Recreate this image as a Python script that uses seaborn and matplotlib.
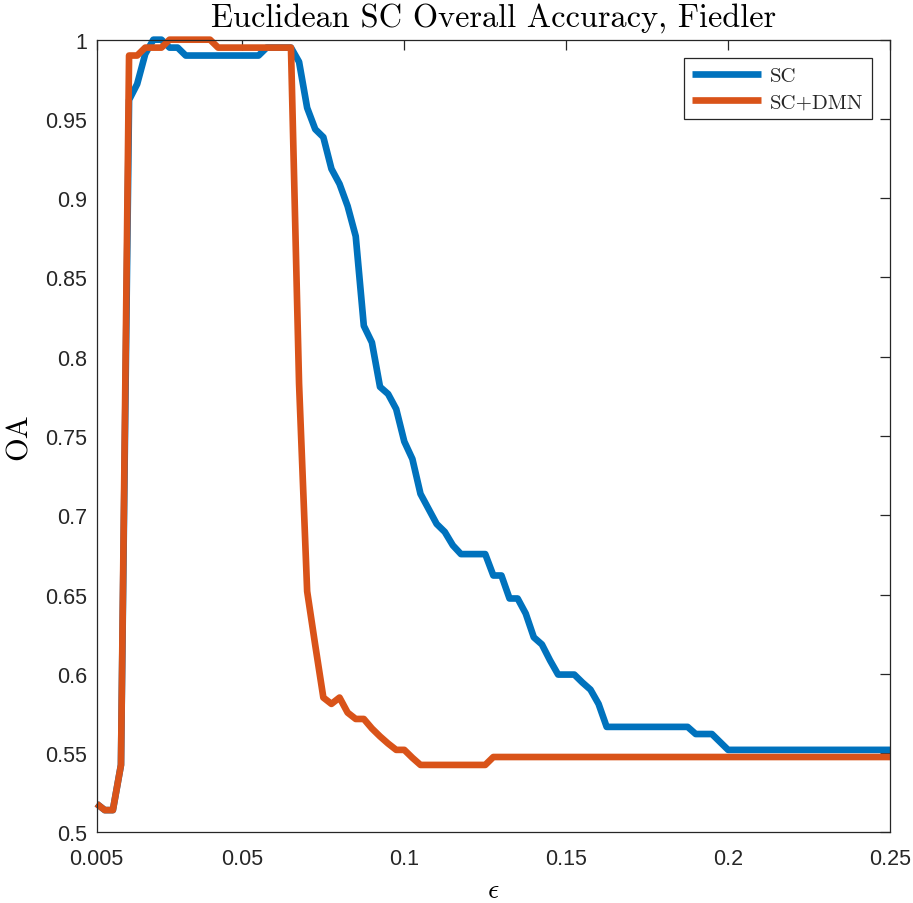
import numpy as np
import pandas as pd
import matplotlib
matplotlib.use("Agg")
import matplotlib.pyplot as plt
import seaborn as sns

# epsilon grid (0.005 to 0.25, step 0.0025)
eps = [
    0.005, 0.0075, 0.01, 0.0125, 0.015, 0.0175, 0.02, 0.0225, 0.025, 0.0275,
    0.03, 0.0325, 0.035, 0.0375, 0.04, 0.0425, 0.045, 0.0475, 0.05, 0.0525,
    0.055, 0.0575, 0.06, 0.0625, 0.065, 0.0675, 0.07, 0.0725, 0.075, 0.0775,
    0.08, 0.0825, 0.085, 0.0875, 0.09, 0.0925, 0.095, 0.0975, 0.1, 0.1025,
    0.105, 0.1075, 0.11, 0.1125, 0.115, 0.1175, 0.12, 0.1225, 0.125, 0.1275,
    0.13, 0.1325, 0.135, 0.1375, 0.14, 0.1425, 0.145, 0.1475, 0.15, 0.1525,
    0.155, 0.1575, 0.16, 0.1625, 0.165, 0.1675, 0.17, 0.1725, 0.175, 0.1775,
    0.18, 0.1825, 0.185, 0.1875, 0.19, 0.1925, 0.195, 0.1975, 0.2, 0.2025,
    0.205, 0.2075, 0.21, 0.2125, 0.215, 0.2175, 0.22, 0.2225, 0.225, 0.2275,
    0.23, 0.2325, 0.235, 0.2375, 0.24, 0.2425, 0.245, 0.2475, 0.25,
]

sc = [
    0.518, 0.514, 0.514, 0.5425, 0.962, 0.972, 0.991, 1.0, 1.0, 0.995,
    0.995, 0.99, 0.99, 0.99, 0.99, 0.99, 0.99, 0.99, 0.99, 0.99,
    0.99, 0.995, 0.995, 0.995, 0.995, 0.986, 0.957, 0.9435, 0.9385, 0.9185,
    0.909, 0.895, 0.876, 0.8195, 0.809, 0.781, 0.7765, 0.767, 0.7465, 0.7355,
    0.7135, 0.704, 0.6945, 0.6895, 0.681, 0.6755, 0.6755, 0.6755, 0.6755, 0.662,
    0.662, 0.6475, 0.6475, 0.638, 0.623, 0.6185, 0.6085, 0.5995, 0.5995, 0.5995,
    0.5945, 0.590, 0.581, 0.5665, 0.5665, 0.5665, 0.5665, 0.5665, 0.5665, 0.5665,
    0.5665, 0.5665, 0.5665, 0.5665, 0.562, 0.562, 0.562, 0.557, 0.552, 0.552,
    0.552, 0.552, 0.552, 0.552, 0.552, 0.552, 0.552, 0.552, 0.552, 0.552,
    0.552, 0.552, 0.552, 0.552, 0.552, 0.552, 0.552, 0.552, 0.552,
]

sc_dmn = [
    0.518, 0.514, 0.514, 0.5425, 0.99, 0.99, 0.995, 0.995, 0.995, 1.0,
    1.0, 1.0, 1.0, 1.0, 1.0, 0.995, 0.995, 0.995, 0.995, 0.995,
    0.995, 0.995, 0.995, 0.995, 0.995, 0.783, 0.652, 0.618, 0.585, 0.581,
    0.585, 0.5755, 0.5715, 0.5715, 0.5655, 0.5605, 0.556, 0.552, 0.552, 0.547,
    0.5425, 0.5425, 0.5425, 0.5425, 0.5425, 0.5425, 0.5425, 0.5425, 0.5425, 0.5475,
    0.5475, 0.5475, 0.5475, 0.5475, 0.5475, 0.5475, 0.5475, 0.5475, 0.5475, 0.5475,
    0.5475, 0.5475, 0.5475, 0.5475, 0.5475, 0.5475, 0.5475, 0.5475, 0.5475, 0.5475,
    0.5475, 0.5475, 0.5475, 0.5475, 0.5475, 0.5475, 0.5475, 0.5475, 0.5475, 0.5475,
    0.5475, 0.5475, 0.5475, 0.5475, 0.5475, 0.5475, 0.5475, 0.5475, 0.5475, 0.5475,
    0.5475, 0.5475, 0.5475, 0.5475, 0.5475, 0.5475, 0.5475, 0.5475, 0.5475,
]

series_names = ["SC", "SC+DMN"]
series_colors = ["#0072BD", "#D95319"]
x_ticks = [0.005, 0.05, 0.1, 0.15, 0.2, 0.25]
x_tick_labels = ["0.005", "0.05", "0.1", "0.15", "0.2", "0.25"]
y_ticks = [0.5, 0.55, 0.6, 0.65, 0.7, 0.75, 0.8, 0.85, 0.9, 0.95, 1.0]
y_tick_labels = ["0.5", "0.55", "0.6", "0.65", "0.7", "0.75", "0.8", "0.85", "0.9", "0.95", "1"]
title = "Euclidean SC Overall Accuracy, Fiedler"

sns.set_theme(style="white")
plt.rcParams["font.family"] = ["Liberation Sans", "DejaVu Sans"]
plt.rcParams["mathtext.fontset"] = "cm"
plt.rcParams["axes.unicode_minus"] = False

df = pd.DataFrame({
    "eps": eps + eps,
    "OA": sc + sc_dmn,
    "Method": [series_names[0]] * len(sc) + [series_names[1]] * len(sc_dmn),
})

fig = plt.figure(figsize=(9.13, 9.04), dpi=100)
ax = fig.add_axes([0.1059, 0.0782, 0.8689, 0.8768])
sns.lineplot(data=df, x="eps", y="OA", hue="Method", hue_order=series_names,
             palette=series_colors, linewidth=4.8, ax=ax,
             solid_joinstyle="round", solid_capstyle="butt")
for ln in ax.get_lines():
    ln.set_clip_on(False)

ax.set_xlim(0.005, 0.25)
ax.set_ylim(0.5, 1.0)
ax.set_xticks(x_ticks)
ax.set_xticklabels(x_tick_labels)
ax.set_yticks(y_ticks)
ax.set_yticklabels(y_tick_labels)

edge = "#262626"
for s in ax.spines.values():
    s.set_visible(True)
    s.set_color(edge)
    s.set_linewidth(0.9)
ax.tick_params(axis="both", direction="in", length=7, width=0.9, color=edge,
               labelcolor=edge, labelsize=15.5, top=True, right=True)
ax.tick_params(axis="x", pad=11)
ax.tick_params(axis="y", pad=7)

ax.set_title(title, fontfamily="cmr10", fontsize=23.3, pad=10, color="black")
ax.set_ylabel("OA", fontfamily="cmr10", fontsize=22, labelpad=9, color="black")
ax.set_xlabel(r"$\epsilon$", fontsize=20, labelpad=6, color="black")

handles, labels = ax.get_legend_handles_labels()
leg = ax.legend(handles, labels, loc="upper right", bbox_to_anchor=(0.977, 0.9765),
                borderaxespad=0, prop={"family": "cmr10", "size": 15},
                frameon=True, fancybox=False, edgecolor=edge, framealpha=1,
                handlelength=3.3, handletextpad=0.45, labelspacing=0.35,
                borderpad=0.4)
leg.get_frame().set_linewidth(0.9)
for lh in leg.get_lines():
    lh.set_linewidth(4.8)

fig.savefig("out.png", dpi=100)
